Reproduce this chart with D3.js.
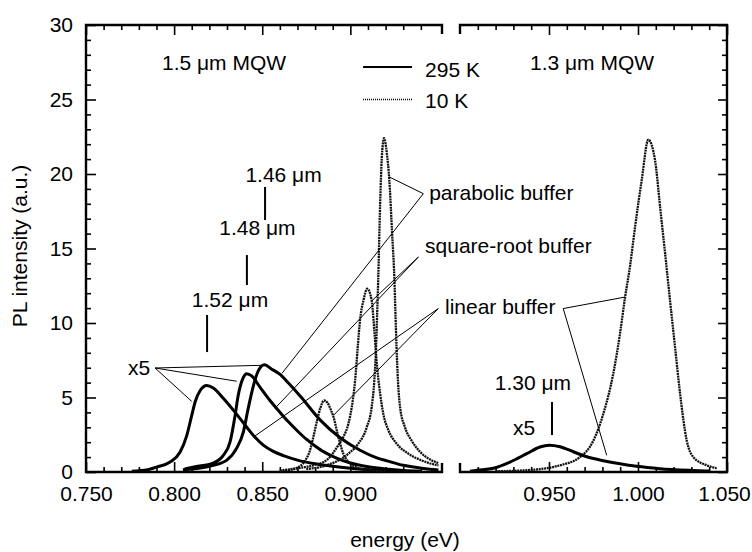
<!DOCTYPE html>
<html><head><meta charset="utf-8">
<script src="https://cdn.jsdelivr.net/npm/d3@7"></script>
<style>
html,body{margin:0;padding:0;background:#fff;}
svg{display:block;font-family:"Liberation Sans",Arial,Helvetica,sans-serif;}
</style></head><body>
<svg id="chart" width="752" height="552"></svg>
<script>
// ---------------- data ----------------
const yMajorTicks = [0, 5, 10, 15, 20, 25, 30];
const xLeftTicks = [0.750, 0.800, 0.850, 0.900];
const xRightTicks = [0.950, 1.000, 1.050];

// [energy (eV), PL intensity]
const c1520_295K = [[0.776,0.05],[0.785,0.15],[0.790,0.33],[0.7977,0.67],[0.8034,1.34],[0.8072,2.46],[0.8100,3.8],[0.8119,4.7],[0.8147,5.45],[0.8185,5.8],[0.8222,5.64],[0.8279,4.95],[0.8336,4.15],[0.8393,3.3],[0.8450,2.45],[0.8506,1.8],[0.856,1.4],[0.862,1.1],[0.870,0.8],[0.880,0.55],[0.890,0.38],[0.900,0.25],[0.910,0.15],[0.920,0.08],[0.930,0.04]];
const c1480_295K = [[0.806,0.2],[0.812,0.35],[0.8221,0.6],[0.8278,1.1],[0.8317,2.0],[0.8346,3.8],[0.8363,5.1],[0.8391,6.3],[0.8412,6.6],[0.8440,6.45],[0.8487,5.7],[0.8544,4.8],[0.8601,4.0],[0.865,3.35],[0.870,2.75],[0.875,2.2],[0.880,1.75],[0.885,1.35],[0.890,1.05],[0.895,0.8],[0.900,0.6],[0.910,0.35],[0.920,0.2],[0.930,0.1],[0.940,0.05]];
const c1460_295K = [[0.805,0.15],[0.8221,0.45],[0.8299,0.8],[0.8355,1.6],[0.8393,2.7],[0.8421,4.3],[0.8450,5.8],[0.8478,6.8],[0.8512,7.2],[0.8554,6.9],[0.8601,6.55],[0.865,5.95],[0.8715,5.1],[0.8828,3.5],[0.8942,2.3],[0.9055,1.46],[0.915,0.95],[0.9208,0.75],[0.930,0.45],[0.9379,0.3],[0.945,0.18],[0.950,0.13]];
const linear_10K = [[0.860,0.05],[0.866,0.15],[0.870,0.3],[0.874,0.7],[0.8771,1.46],[0.8790,2.35],[0.881,3.4],[0.883,4.3],[0.8851,4.8],[0.887,4.65],[0.889,4.15],[0.8904,3.7],[0.8932,2.35],[0.8960,1.23],[0.8998,0.58],[0.905,0.25],[0.912,0.1],[0.920,0.05]];
const sqrt_10K = [[0.860,0.1],[0.870,0.25],[0.879,0.45],[0.8866,0.8],[0.8932,1.8],[0.8960,2.35],[0.8989,3.25],[0.9008,4.36],[0.9027,6.15],[0.9042,8.4],[0.9055,10.2],[0.9074,11.5],[0.9096,12.3],[0.9121,11.5],[0.9136,9.5],[0.9150,7.3],[0.9169,5.26],[0.9187,3.9],[0.9216,2.8],[0.9263,1.9],[0.9329,1.23],[0.940,0.8],[0.946,0.55],[0.950,0.45]];
const parab_10K = [[0.875,0.2],[0.885,0.4],[0.8989,1.23],[0.9045,1.9],[0.9093,3.0],[0.9121,4.36],[0.9136,6.15],[0.9146,8.4],[0.9152,10.6],[0.9158,12.9],[0.9169,18.0],[0.9178,21.0],[0.9191,22.4],[0.9207,21.4],[0.9221,19.6],[0.9237,16.0],[0.9250,12.9],[0.9256,10.6],[0.9262,8.4],[0.9270,6.15],[0.9282,4.36],[0.9310,3.0],[0.9348,2.1],[0.940,1.3],[0.945,0.85],[0.950,0.6]];
const mqw13_10K = [[0.920,0.05],[0.9375,0.12],[0.9562,0.45],[0.9674,1.0],[0.9749,2.1],[0.9805,3.9],[0.9861,6.6],[0.9899,9.3],[0.9927,11.7],[0.9955,13.8],[0.9983,16.4],[1.0021,19.6],[1.0058,22.3],[1.0096,20.9],[1.0124,17.8],[1.0152,14.7],[1.0180,11.5],[1.0208,8.4],[1.0236,5.3],[1.0274,2.1],[1.0311,1.0],[1.0386,0.45],[1.0442,0.25]];
const mqw13_295K = [[0.9056,0.05],[0.9094,0.11],[0.9187,0.25],[0.9281,0.67],[0.9375,1.23],[0.9449,1.68],[0.9502,1.8],[0.9562,1.7],[0.9637,1.36],[0.9712,1.02],[0.9805,0.76],[0.9899,0.55],[0.9993,0.38],[1.0124,0.22],[1.0311,0.1],[1.040,0.06]];

// annotation texts [panel, energy, intensity, anchor, text]
const labels = [
  ["L",0.7931,26.98,"start","1.5 \u03bcm MQW"],
  ["R",0.9393,26.98,"start","1.3 \u03bcm MQW"],
  ["L",0.9424,26.5,"start","295 K"],
  ["L",0.9424,24.43,"start","10 K"],
  ["L",0.8621,19.46,"middle","1.46 \u03bcm"],
  ["L",0.8473,15.91,"middle","1.48 \u03bcm"],
  ["L",0.8317,11.07,"middle","1.52 \u03bcm"],
  ["L",0.7738,6.49,"start","x5"],
  ["R",0.9410,5.5,"middle","1.30 \u03bcm"],
  ["R",0.9298,2.48,"start","x5"],
  ["L",0.9447,18.26,"start","parabolic buffer"],
  ["L",0.9424,14.7,"start","square-root buffer"],
  ["L",0.9537,10.6,"start","linear buffer"]
];
// wavelength markers [panel, energy, from, to]
const markers = [["L",0.8516,16.91,19.13],["L",0.8413,12.55,14.56],["L",0.8187,8.05,10.54],["R",0.9517,2.48,4.70]];
// leader lines [panel, [e0,v0], [e1,v1]]
const leaders = [
  ["L",[0.9414,18.68],[0.9221,19.8]],
  ["L",[0.9414,18.68],[0.8612,6.62]],
  ["L",[0.9386,14.43],[0.9123,11.5]],
  ["L",[0.9386,14.43],[0.8573,4.28]],
  ["L",[0.9499,10.97],[0.8904,3.8]],
  ["L",[0.9499,10.97],[0.8450,2.35]],
  ["R",[0.9580,10.97],[0.9927,11.74]],
  ["R",[0.9580,10.97],[0.9824,1.12]],
  ["L",[0.7892,6.98],[0.8497,7.16]],
  ["L",[0.7892,6.98],[0.8355,6.09]],
  ["L",[0.7892,6.98],[0.8100,4.74]]
];
// legend [style, e0, e1, v]
const legend = [["solid",0.9072,0.9350,27.18],["dotted",0.9072,0.9350,25.0]];

// ---------------- drawing ----------------
const svg = d3.select("#chart");
const FS = 21;
const xL = d3.scaleLinear().domain([0.750, 0.952]).range([86, 442]);
const xR = d3.scaleLinear().domain([0.900, 1.050]).range([460, 727]);
const y = d3.scaleLinear().domain([0, 30]).range([472, 25]);
const xs = p => p === "L" ? xL : xR;

const minorL = d3.range(76, 96).map(k => k / 100).filter(v => Math.round(v*1000) % 50 !== 0);
const minorR = d3.range(91, 105).map(k => k / 100).filter(v => Math.round(v*1000) % 50 !== 0);
const minorY = d3.range(0, 31).filter(v => v % 5 !== 0);

function styleAxis(g){
  g.select(".domain").remove();
  g.selectAll(".tick line").attr("stroke","#000").attr("stroke-width",1.6);
  g.selectAll("text").attr("font-size",FS).attr("fill","#000").attr("font-family","Liberation Sans, Arial, sans-serif");
}
function addX(scale, major, minor){
  svg.append("g").attr("class","xlab").attr("transform",`translate(0,${y(0)})`)
    .call(d3.axisBottom(scale).tickValues(major).tickSize(-10).tickPadding(14)
      .tickFormat(d3.format(".3f"))).call(styleAxis);
  svg.append("g").attr("transform",`translate(0,${y(0)})`)
    .call(d3.axisBottom(scale).tickValues(minor).tickSize(-5).tickFormat("")).call(styleAxis);
  svg.append("g").attr("transform",`translate(0,${y(30)})`)
    .call(d3.axisTop(scale).tickValues(major).tickSize(-10).tickFormat("")).call(styleAxis);
  svg.append("g").attr("transform",`translate(0,${y(30)})`)
    .call(d3.axisTop(scale).tickValues(minor).tickSize(-5).tickFormat("")).call(styleAxis);
}
addX(xL, xLeftTicks, minorL);
addX(xR, xRightTicks, minorR);
// keep the last label inside the window
svg.selectAll(".xlab .tick text").filter(d => d === 1.050).attr("dx", -3);

svg.append("g").attr("transform",`translate(${xL.range()[0]},0)`)
  .call(d3.axisLeft(y).tickValues(yMajorTicks).tickSize(-10).tickPadding(13).tickFormat(d3.format("d"))).call(styleAxis);
svg.append("g").attr("transform",`translate(${xL.range()[0]},0)`)
  .call(d3.axisLeft(y).tickValues(minorY).tickSize(-5).tickFormat("")).call(styleAxis);
svg.append("g").attr("transform",`translate(${xR.range()[1]},0)`)
  .call(d3.axisRight(y).tickValues(yMajorTicks).tickSize(-9).tickFormat("")).call(styleAxis);
svg.append("g").attr("transform",`translate(${xR.range()[1]},0)`)
  .call(d3.axisRight(y).tickValues(minorY).tickSize(-5).tickFormat("")).call(styleAxis);

// frames
const [l0,l1] = xL.range(), [r0,r1] = xR.range(), yt = y(30), yb = y(0);
svg.append("path").attr("fill","none").attr("stroke","#000").attr("stroke-width",2.4)
  .attr("d",`M${l1},${yt+9}V${yt}H${l0}V${yb}H${l1}V${yb-9}`);
svg.append("path").attr("fill","none").attr("stroke","#000").attr("stroke-width",2.4)
  .attr("d",`M${r0},${yt+9}V${yt}H${r1}V${yb}H${r0}V${yb-9}`);

// curves
function drawCurve(data, scale, dotted){
  const line = d3.line().x(d => scale(d[0])).y(d => y(d[1])).curve(d3.curveMonotoneX);
  svg.append("path").datum(data).attr("fill","none")
    .attr("stroke", dotted ? "#111" : "#000")
    .attr("stroke-width", dotted ? 2.3 : 3)
    .attr("stroke-dasharray", dotted ? "2 0.7" : null)
    .attr("stroke-linejoin","round")
    .attr("d", line);
}
[c1520_295K, c1480_295K, c1460_295K].forEach(d => drawCurve(d, xL, false));
[linear_10K, sqrt_10K, parab_10K].forEach(d => drawCurve(d, xL, true));
drawCurve(mqw13_10K, xR, true);
drawCurve(mqw13_295K, xR, false);

// leader lines
svg.append("g").selectAll("line").data(leaders).join("line")
  .attr("x1", d => xs(d[0])(d[1][0])).attr("y1", d => y(d[1][1]))
  .attr("x2", d => xs(d[0])(d[2][0])).attr("y2", d => y(d[2][1]))
  .attr("stroke","#000").attr("stroke-width",1);

// wavelength markers
svg.append("g").selectAll("line").data(markers).join("line")
  .attr("x1", d => xs(d[0])(d[1])).attr("x2", d => xs(d[0])(d[1]))
  .attr("y1", d => y(d[2])).attr("y2", d => y(d[3]))
  .attr("stroke","#000").attr("stroke-width",2);

// legend
svg.append("g").selectAll("line").data(legend).join("line")
  .attr("x1", d => xL(d[1])).attr("x2", d => xL(d[2]))
  .attr("y1", d => y(d[3])).attr("y2", d => y(d[3]))
  .attr("stroke","#000")
  .attr("stroke-width", d => d[0] === "solid" ? 2 : 1.6)
  .attr("stroke-dasharray", d => d[0] === "solid" ? null : "1 1");

// labels
svg.append("g").selectAll("text").data(labels).join("text")
  .attr("x", d => xs(d[0])(d[1])).attr("y", d => y(d[2]))
  .attr("text-anchor", d => d[3]).attr("font-size", FS).attr("fill","#000")
  .text(d => d[4]);

// axis titles
svg.append("text").attr("x", 405).attr("y", 547).attr("text-anchor","middle")
  .attr("font-size", FS).text("energy (eV)");
svg.append("text").attr("transform","translate(27,246) rotate(-90)").attr("text-anchor","middle")
  .attr("font-size", FS).text("PL intensity (a.u.)");
</script>
</body></html>
